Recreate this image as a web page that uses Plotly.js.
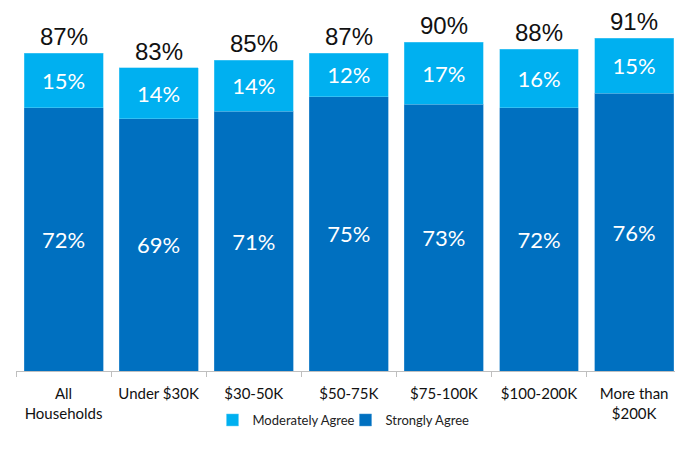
<!DOCTYPE html>
<html>
<head>
<meta charset="utf-8">
<script src="https://cdn.plot.ly/plotly-3.0.1.min.js"></script>
<style>html,body{margin:0;padding:0;background:#fff;}#chart{width:675px;height:457px;}</style>
</head>
<body>
<div id="chart"></div>
<script>
var categories = ["All<br>Households", "Under $30K", "$30-50K", "$50-75K", "$75-100K", "$100-200K", "More than<br>$200K"];
var stronglyAgree = [72, 69, 71, 75, 73, 72, 76];
var moderatelyAgree = [15, 14, 14, 12, 17, 16, 15];
var totals = [87, 83, 85, 87, 90, 88, 91];

var insideFont = {family: "Lato, 'Open Sans', sans-serif", size: 22, color: "#ffffff"};

var traces = [
  {
    type: "bar", name: "Strongly Agree", x: categories, y: stronglyAgree,
    marker: {color: "#0070C0", line: {color: "#4a9ad6", width: 0.5}},
    text: stronglyAgree.map(function(v){return v + "%";}),
    textposition: "inside", insidetextanchor: "middle", textangle: 0,
    textfont: insideFont, constraintext: "none", hoverinfo: "none"
  },
  {
    type: "bar", name: "Moderately Agree", x: categories, y: moderatelyAgree,
    marker: {color: "#00B0F0", line: {color: "#66d0f6", width: 0.5}},
    text: moderatelyAgree.map(function(v){return v + "%";}),
    textposition: "inside", insidetextanchor: "middle", textangle: 0,
    textfont: insideFont, constraintext: "none", hoverinfo: "none"
  }
];

var annotations = categories.map(function(c, i){
  return {
    x: c, y: totals[i], xref: "x", yref: "y",
    text: totals[i] + "%", showarrow: false, yanchor: "bottom", yshift: 1,
    font: {family: "'Liberation Sans', Arial, sans-serif", size: 24, color: "#111111"}
  };
});

var layout = {
  width: 675, height: 457,
  margin: {l: 16, r: 0, t: 0, b: 86, pad: 0},
  paper_bgcolor: "#ffffff", plot_bgcolor: "#ffffff",
  barmode: "stack", bargap: 0.17,
  showlegend: true,
  legend: {
    orientation: "h", traceorder: "reversed",
    x: 0.5, xanchor: "center", y: -0.132, yanchor: "middle",
    font: {family: "Lato, 'Open Sans', sans-serif", size: 13, color: "#222222"},
    itemwidth: 30, entrywidth: 88
  },
  xaxis: {
    type: "category", range: [-0.5, 6.43],
    showline: true, linecolor: "#bfbfbf", linewidth: 1,
    ticks: "outside", tickson: "boundaries", ticklen: 5, tickcolor: "#bfbfbf",
    ticklabelstandoff: 9,
    tickfont: {family: "Lato, 'Open Sans', sans-serif", size: 15, color: "#111111"},
    showgrid: false, zeroline: false, fixedrange: true
  },
  yaxis: {
    range: [0, 101.5], visible: false, showgrid: false, zeroline: false, fixedrange: true
  },
  annotations: annotations,
  font: {family: "Lato, sans-serif"}
};

Plotly.newPlot("chart", traces, layout, {displayModeBar: false, staticPlot: true});
</script>
</body>
</html>
